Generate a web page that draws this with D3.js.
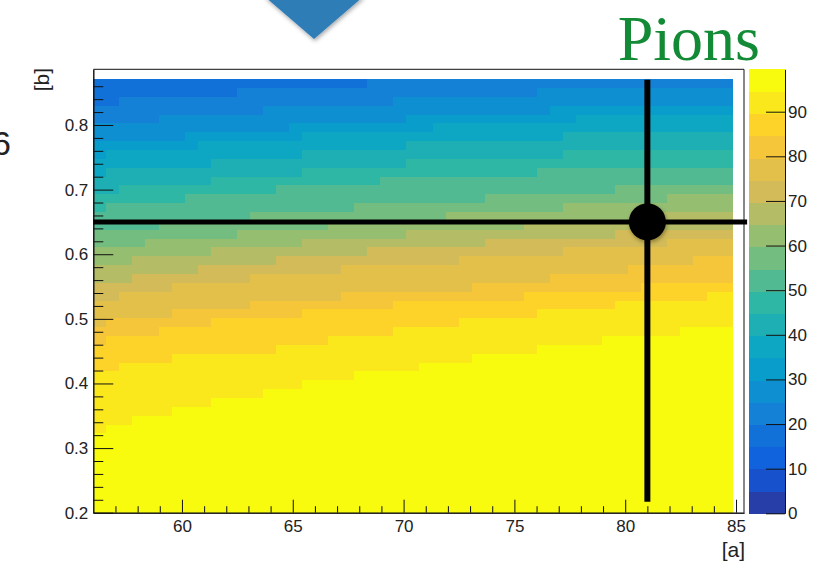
<!DOCTYPE html>
<html>
<head>
<meta charset="utf-8">
<script src="https://cdn.jsdelivr.net/npm/d3@7"></script>
<style>
  body { margin: 0; background: #fff; }
  svg { display: block; font-family: "Liberation Sans", Arial, sans-serif; }
</style>
</head>
<body>
<div id="container"></div>
<script>
// axis ticks
const xTicks = [60, 65, 70, 75, 80, 85];
const yTicks = [0.2, 0.3, 0.4, 0.5, 0.6, 0.7, 0.8];
const zTicks = [0, 10, 20, 30, 40, 50, 60, 70, 80, 90];

// histogram binning (49 x 49 bins)
const nCols = 49, nRows = 49;
const xBin0 = 56, xBinW = 0.5887;
const yBin0 = 0.2, yBinH = 0.01371;
const zMax = 99.5, nLevels = 20;

// contour bands: band 3 at the top left, band 19 (yellow) at the bottom.
// for each level 4..19: rows (from the bottom) at or above that level in column 0,
// and the columns where that edge climbs by one row
const firstBand = 3;
const levelStart = [46, 44, 42, 40, 38, 36, 34, 32, 30, 28, 26, 24, 21, 19, 16, 9];
const levelSteps = [
  [2, 11, 21],
  [5, 13, 23, 34],
  [7, 15, 24, 35],
  [1, 8, 16, 26, 37],
  [1, 9, 16, 24, 36],
  [2, 9, 16, 24, 36],
  [1, 7, 14, 22, 34],
  [5, 12, 20, 30, 40],
  [4, 11, 18, 27, 36, 44],
  [3, 9, 16, 24, 33, 42],
  [3, 8, 14, 21, 30, 40],
  [2, 6, 12, 19, 28, 36, 44],
  [1, 6, 12, 19, 29, 35, 41, 46],
  [1, 5, 9, 16, 23, 33, 42],
  [2, 6, 14, 18, 23, 28, 34, 40, 47],
  [1, 3, 6, 9, 13, 16, 20, 25, 29, 34, 39, 45]
];

// marker
const markerPoint = [81, 0.65];
const markerVSpan = [0.217, 0.870];
const markerHSpan = [56, 85.5];

// ROOT kBird palette
const birdStops = [0, 0.125, 0.25, 0.375, 0.5, 0.625, 0.75, 0.875, 1];
const birdColors = ["rgb(53,42,135)", "rgb(15,92,221)", "rgb(20,129,214)", "rgb(6,164,202)",
  "rgb(46,183,164)", "rgb(135,191,119)", "rgb(209,187,89)", "rgb(254,200,50)", "rgb(249,251,14)"];
const bird = d3.scaleLinear().domain(birdStops).range(birdColors).interpolate(d3.interpolateRgb);
const bandColor = (i) => bird(Math.floor((i + 0.99) * 255 / nLevels) / 254);

const width = 819, height = 564;
const svg = d3.select("#container").append("svg")
  .attr("width", width).attr("height", height);

const defs = svg.append("defs");
const shadow = defs.append("filter").attr("id", "shadow")
  .attr("x", "-50%").attr("y", "-50%").attr("width", "200%").attr("height", "200%");
shadow.append("feDropShadow").attr("dx", 1).attr("dy", 2).attr("stdDeviation", 2)
  .attr("flood-color", "#000").attr("flood-opacity", 0.35);

const xs = d3.scaleLinear().domain([56, 85.36]).range([93.3, 744]);
const ys = d3.scaleLinear().domain([0.2, 0.8862]).range([512.7, 69.3]);
const zs = d3.scaleLinear().domain([0, zMax]).range([513.3, 69.3]);

// edge heights per column
const heights = levelStart.map((s, i) => {
  const h = [];
  let cur = s;
  for (let c = 0; c < nCols; c++) {
    cur += levelSteps[i].filter((k) => k === c).length;
    h.push(cur);
  }
  return h;
});

const cells = [];
for (let c = 0; c < nCols; c++) {
  for (let r = 0; r < nRows; r++) {
    const band = firstBand + heights.filter((h) => r < h[c]).length;
    cells.push({ c, r, band });
  }
}

svg.append("g")
  .attr("shape-rendering", "crispEdges")
  .selectAll("rect")
  .data(cells)
  .enter()
  .append("rect")
    .attr("x", (d) => xs(xBin0 + d.c * xBinW))
    .attr("width", (d) => xs(xBin0 + (d.c + 1) * xBinW) - xs(xBin0 + d.c * xBinW) + 0.5)
    .attr("y", (d) => ys(yBin0 + (d.r + 1) * yBinH))
    .attr("height", (d) => ys(yBin0 + d.r * yBinH) - ys(yBin0 + (d.r + 1) * yBinH) + 0.5)
    .style("fill", (d) => bandColor(d.band));

// frame
svg.append("path")
  .attr("d", `M${xs(56)},${ys(0.8862)}H${xs(85.36)}V${ys(0.2)}`)
  .style("fill", "none").style("stroke", "#111").style("stroke-width", 1);

// x axis
const xMinor = d3.range(57, 86).filter((v) => v % 5 !== 0);
svg.append("g")
  .attr("transform", `translate(0,${ys(0.2)})`)
  .call(d3.axisBottom(xs).tickValues(xMinor).tickSizeInner(-6.5).tickSizeOuter(0).tickFormat(""));
svg.append("g")
  .attr("class", "lab")
  .attr("transform", `translate(0,${ys(0.2)})`)
  .call(d3.axisBottom(xs).tickValues(xTicks).tickSizeInner(-13).tickSizeOuter(0).tickPadding(7).tickFormat(d3.format("d")));

// y axis
const yMinor = d3.range(0.22, 0.88, 0.02).filter((v) => Math.abs(v * 10 - Math.round(v * 10)) > 0.01);
svg.append("g")
  .attr("transform", `translate(${xs(56)},0)`)
  .call(d3.axisLeft(ys).tickValues(yMinor).tickSizeInner(-10).tickSizeOuter(0).tickFormat(""));
svg.append("g")
  .attr("class", "lab")
  .attr("transform", `translate(${xs(56)},0)`)
  .call(d3.axisLeft(ys).tickValues(yTicks).tickSizeInner(-20).tickSizeOuter(0).tickPadding(5).tickFormat(d3.format(".1f")));

// colour bar
const bandW = zMax / nLevels;
svg.append("g")
  .attr("shape-rendering", "crispEdges")
  .selectAll("rect")
  .data(d3.range(nLevels))
  .enter()
  .append("rect")
    .attr("x", 749)
    .attr("width", 36)
    .attr("y", (d) => zs((d + 1) * bandW))
    .attr("height", (d) => zs(d * bandW) - zs((d + 1) * bandW) + 0.5)
    .style("fill", (d) => bandColor(d));
svg.append("g")
  .attr("class", "lab")
  .attr("transform", "translate(785,0)")
  .call(d3.axisRight(zs).tickValues(zTicks).tickSizeInner(-19).tickSizeOuter(0).tickPadding(3));

svg.selectAll("g.tick line, .domain").style("stroke", "#111");
svg.selectAll(".lab text").style("font-size", "17px").style("fill", "#222")
  .style("font-family", "'Liberation Sans', Arial, sans-serif");

// axis titles
svg.append("text").text("[a]")
  .attr("x", 745).attr("y", 557).attr("text-anchor", "end")
  .style("font-size", "21px").style("fill", "#222");
svg.append("text").text("[b]")
  .attr("transform", "translate(49,68) rotate(-90)").attr("text-anchor", "end")
  .style("font-size", "21px").style("fill", "#222");

// marker lines
svg.append("line")
  .attr("x1", xs(markerPoint[0])).attr("x2", xs(markerPoint[0]))
  .attr("y1", ys(markerVSpan[0])).attr("y2", ys(markerVSpan[1]))
  .style("stroke", "#000").style("stroke-width", 6);
svg.append("line")
  .attr("x1", xs(markerHSpan[0])).attr("x2", xs(markerHSpan[1]))
  .attr("y1", ys(markerPoint[1])).attr("y2", ys(markerPoint[1]))
  .style("stroke", "#000").style("stroke-width", 5);
svg.append("circle")
  .attr("cx", xs(markerPoint[0])).attr("cy", ys(markerPoint[1])).attr("r", 18.5)
  .style("fill", "#000").attr("filter", "url(#shadow)");

// decorations from the slide
svg.append("path")
  .attr("d", "M264,-4L364,-4L314,39Z")
  .style("fill", "#2f7db6").attr("filter", "url(#shadow)");
svg.append("text").text("Pions")
  .attr("x", 760).attr("y", 60).attr("text-anchor", "end")
  .style("font-family", "'Liberation Serif', 'Times New Roman', serif")
  .style("font-size", "64px").style("fill", "#138a35");
svg.append("text").text("6")
  .attr("x", 11).attr("y", 155).attr("text-anchor", "end")
  .style("font-size", "34px").style("fill", "#222");
</script>
</body>
</html>
